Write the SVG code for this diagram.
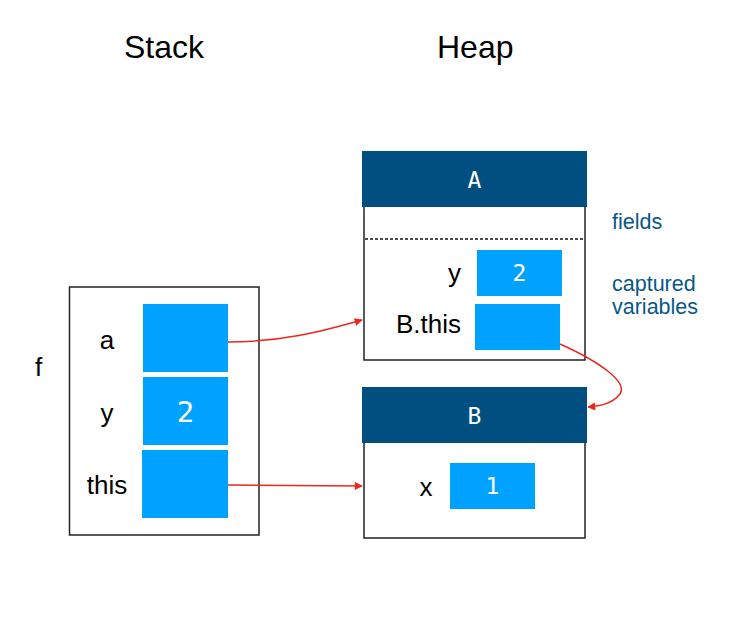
<svg xmlns="http://www.w3.org/2000/svg" width="730" height="623" viewBox="0 0 730 623">
<defs>
<marker id="ah" viewBox="0 0 10 10" refX="9" refY="5" markerWidth="10" markerHeight="8" markerUnits="userSpaceOnUse" orient="auto">
<path d="M0,0 L10,5 L0,10 z" fill="#e8281e"/>
</marker>
</defs>
<style>
.title{font-family:"Liberation Sans",Arial,sans-serif;font-size:32px;fill:#000}
.lbl{font-family:"Liberation Sans",Arial,sans-serif;font-size:26px;fill:#000}
.note{font-family:"Liberation Sans",Arial,sans-serif;font-size:21.5px;fill:#08578a}
.mono{font-family:"DejaVu Sans Mono",monospace;font-size:23px;fill:#fff}
.frame{fill:#fff;stroke:#222;stroke-width:1.5}
.hdr{fill:#004f80}
.cell{fill:#00a2ff}
.conn{fill:none;stroke:#e8281e;stroke-width:1.5}
</style>
<rect width="730" height="623" fill="#fff"/>
<text class="title" x="124" y="58">Stack</text>
<text class="title" x="437" y="58">Heap</text>
<g id="stack-f">
<text class="lbl" x="35" y="376">f</text>
<rect class="frame" x="69.5" y="287" width="189.5" height="248"/>
<text class="lbl" x="107" y="349" text-anchor="middle">a</text>
<rect class="cell" x="143" y="304" width="85" height="68"/>
<text class="lbl" x="107" y="422" text-anchor="middle">y</text>
<rect class="cell" x="143" y="377" width="85" height="68"/>
<text class="mono" x="185.5" y="422" text-anchor="middle" style="font-size:29px">2</text>
<text class="lbl" x="107" y="494" text-anchor="middle">this</text>
<rect class="cell" x="142" y="450" width="86" height="68"/>
</g>
<g id="heap-A">
<rect class="frame" x="364" y="190" width="221" height="170"/>
<rect class="hdr" x="362" y="151" width="225" height="56"/>
<text class="mono" x="474.5" y="188" text-anchor="middle">A</text>
<line x1="365" y1="239" x2="584" y2="239" stroke="#111" stroke-width="1.3" stroke-dasharray="3,2"/>
<text class="lbl" x="461" y="282" text-anchor="end">y</text>
<rect class="cell" x="477" y="250" width="85" height="46"/>
<text class="mono" x="519.5" y="281" text-anchor="middle">2</text>
<text class="lbl" x="461" y="333" text-anchor="end">B.this</text>
<rect class="cell" x="475" y="304" width="85" height="46"/>
<text class="note" x="612" y="229">fields</text>
<text class="note" x="612" y="291">captured</text>
<text class="note" x="612" y="314">variables</text>
</g>
<g id="heap-B">
<rect class="frame" x="364" y="420" width="221" height="118"/>
<rect class="hdr" x="362" y="387" width="225" height="56"/>
<text class="mono" x="474.5" y="424" text-anchor="middle">B</text>
<text class="lbl" x="426" y="496" text-anchor="middle">x</text>
<rect class="cell" x="450" y="463" width="85" height="46"/>
<text class="mono" x="492.5" y="494" text-anchor="middle">1</text>
</g>
<g id="connectors">
<path class="conn" d="M228,342 C280,342 320,332 362,320" marker-end="url(#ah)"/>
<path class="conn" d="M228,485 L362,486" marker-end="url(#ah)"/>
<path class="conn" d="M560,344 C600,362 628,382 620,394 C612,404 600,406 588,407" marker-end="url(#ah)"/>
</g>
</svg>
